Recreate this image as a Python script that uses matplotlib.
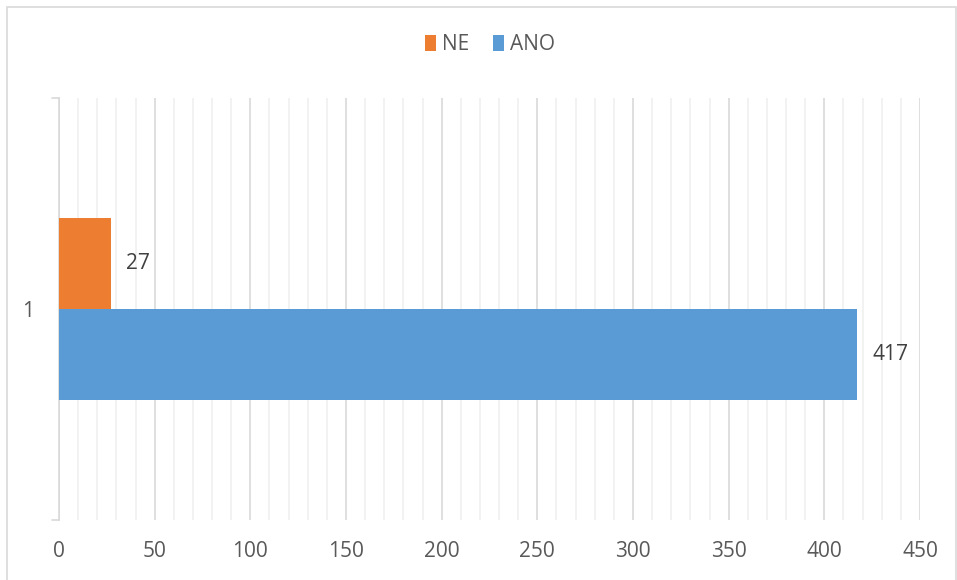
import matplotlib.pyplot as plt
import numpy as np
from matplotlib.patches import Rectangle

categories = ["1"]
ne_values = [27]
ano_values = [417]
series_names = ["NE", "ANO"]

text_color = "#595959"
label_color = "#404040"
orange = "#ED7D31"
blue = "#5B9BD5"

plt.rcParams['font.family'] = ['Open Sans', 'DejaVu Sans']

fig = plt.figure(figsize=(9.57, 5.8), dpi=100)
fig.patches.append(Rectangle((7 / 957, -0.01), 949 / 957, 1 - 7 / 580 + 0.01,
                             transform=fig.transFigure, fill=False,
                             edgecolor="#d9d9d9", linewidth=1.2))

ax = fig.add_axes([59 / 957, 1 - 520 / 580, 861 / 957, 422 / 580])

y = np.arange(len(categories)) + 1
h = 0.216
ax.barh(y - h / 2, ano_values, height=h, color=blue, label=series_names[1], zorder=3)
ax.barh(y + h / 2, ne_values, height=h, color=orange, label=series_names[0], zorder=3)

for yy, v in zip(y, ne_values):
    ax.text(v + 8, yy + h / 2, str(v), va="center", ha="left", fontsize=15, color=label_color)
for yy, v in zip(y, ano_values):
    ax.text(v + 8, yy - h / 2, str(v), va="center", ha="left", fontsize=15, color=label_color)

ax.set_xlim(0, 450)
ax.set_ylim(0.5, 1.5)
ax.set_xticks(np.arange(0, 451, 50))
ax.set_xticks(np.arange(0, 451, 10), minor=True)
ax.set_yticks(y)
ax.set_yticklabels(categories)
ax.grid(axis="x", which="major", color="#d9d9d9", linewidth=1.2, zorder=0)
ax.grid(axis="x", which="minor", color="#f0f0f0", linewidth=1.2, zorder=0)

for s in ["top", "right", "bottom"]:
    ax.spines[s].set_visible(False)
ax.spines["left"].set_color("#d9d9d9")
ax.spines["left"].set_linewidth(1.2)

ax.tick_params(axis="x", which="both", length=0, labelsize=15, labelcolor=text_color, pad=15)
ax.tick_params(axis="y", length=0, labelsize=15, labelcolor=text_color, pad=18)
# little end ticks on the category axis
for yy in [0.5, 1.5]:
    ax.annotate("", xy=(0, yy), xytext=(-7, 0), xycoords=("axes fraction", "data"),
                textcoords="offset pixels", arrowprops=dict(arrowstyle="-", color="#d9d9d9", lw=1.2,
                                                             shrinkA=0, shrinkB=0))

handles, labels = ax.get_legend_handles_labels()
fig.legend(handles[::-1], labels[::-1], loc="center", bbox_to_anchor=(490 / 957, 1 - 45 / 580),
           ncol=2, frameon=False, fontsize=15, labelcolor=text_color,
           handlelength=0.55, handleheight=0.8, handletextpad=0.3, columnspacing=1.1)

fig.savefig("out.png", dpi=100)
